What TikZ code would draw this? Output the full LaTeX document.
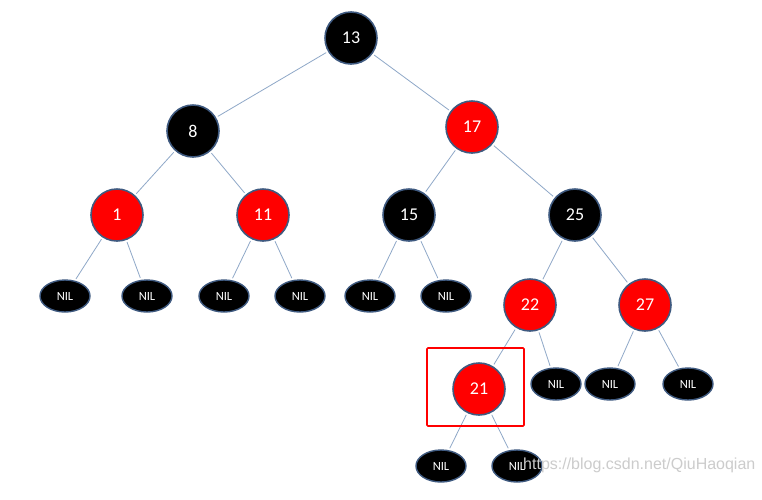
\documentclass[tikz,border=0pt]{standalone}
\usepackage{fontspec}
\setmainfont{Carlito}
\newfontfamily\wmfont{Liberation Sans}
\usetikzlibrary{shapes.geometric}
\definecolor{edgec}{HTML}{8FA8C8}
\definecolor{bordc}{HTML}{3F5A80}
\begin{document}
\begin{tikzpicture}[x=1pt,y=-1pt,
  bnode/.style={circle,draw=bordc,line width=1.6pt,fill=black,text=white,minimum size=52pt,inner sep=0pt,font=\fontsize{18}{18}\selectfont},
  rnode/.style={bnode,fill=red},
  nilnode/.style={ellipse,draw=bordc,line width=1.4pt,fill=black,text=white,minimum width=50pt,minimum height=32pt,inner sep=0pt,font=\fontsize{12.5}{12.5}\selectfont},
  edge/.style={draw=edgec,line width=0.8pt}]
\useasboundingbox (0,0) rectangle (762,499);
\fill[white] (0,0) rectangle (762,499);
\node[bnode] (n13) at (351,38) {13};
\node[bnode] (n8) at (193,131) {8};
\node[rnode] (n17) at (472,127) {17};
\node[rnode] (n1) at (117,215) {1};
\node[rnode] (n11) at (263,215) {11};
\node[bnode] (n15) at (409,215) {15};
\node[bnode] (n25) at (575,215) {25};
\node[rnode] (n22) at (530,305) {22};
\node[rnode] (n27) at (645,305) {27};
\node[rnode] (n21) at (479,389) {21};
\node[nilnode] (a1) at (65,296) {NIL};
\node[nilnode] (a2) at (147,296) {NIL};
\node[nilnode] (a3) at (224,296) {NIL};
\node[nilnode] (a4) at (300,296) {NIL};
\node[nilnode] (a5) at (370,296) {NIL};
\node[nilnode] (a6) at (446,296) {NIL};
\node[nilnode] (b1) at (556,384) {NIL};
\node[nilnode] (b2) at (610,384) {NIL};
\node[nilnode] (b3) at (688,384) {NIL};
\node[nilnode] (c1) at (441,466) {NIL};
\node[nilnode] (c2) at (517,466) {NIL};
\begin{scope}[shorten <=2pt,shorten >=2pt]
\draw[edge] (n13) -- (n8);
\draw[edge] (n13) -- (n17);
\draw[edge] (n8) -- (n1);
\draw[edge] (n8) -- (n11);
\draw[edge] (n17) -- (n15);
\draw[edge] (n17) -- (n25);
\draw[edge] (n1) -- (a1);
\draw[edge] (n1) -- (a2);
\draw[edge] (n11) -- (a3);
\draw[edge] (n11) -- (a4);
\draw[edge] (n15) -- (a5);
\draw[edge] (n15) -- (a6);
\draw[edge] (n25) -- (n22);
\draw[edge] (n25) -- (n27);
\draw[edge] (n22) -- (n21);
\draw[edge] (n22) -- (b1);
\draw[edge] (n27) -- (b2);
\draw[edge] (n27) -- (b3);
\draw[edge] (n21) -- (c1);
\draw[edge] (n21) -- (c2);
\end{scope}
\node[draw=red,line width=1.6pt,rounded corners=1pt,minimum width=97pt,minimum height=78pt,inner sep=0pt] (box) at (475.5,387) {};
\node[text=gray!40,font=\wmfont\fontsize{16}{16}\selectfont,anchor=west,inner sep=0pt] (wm) at (523,465) {https://blog.csdn.net/QiuHaoqian};
\end{tikzpicture}
\end{document}
